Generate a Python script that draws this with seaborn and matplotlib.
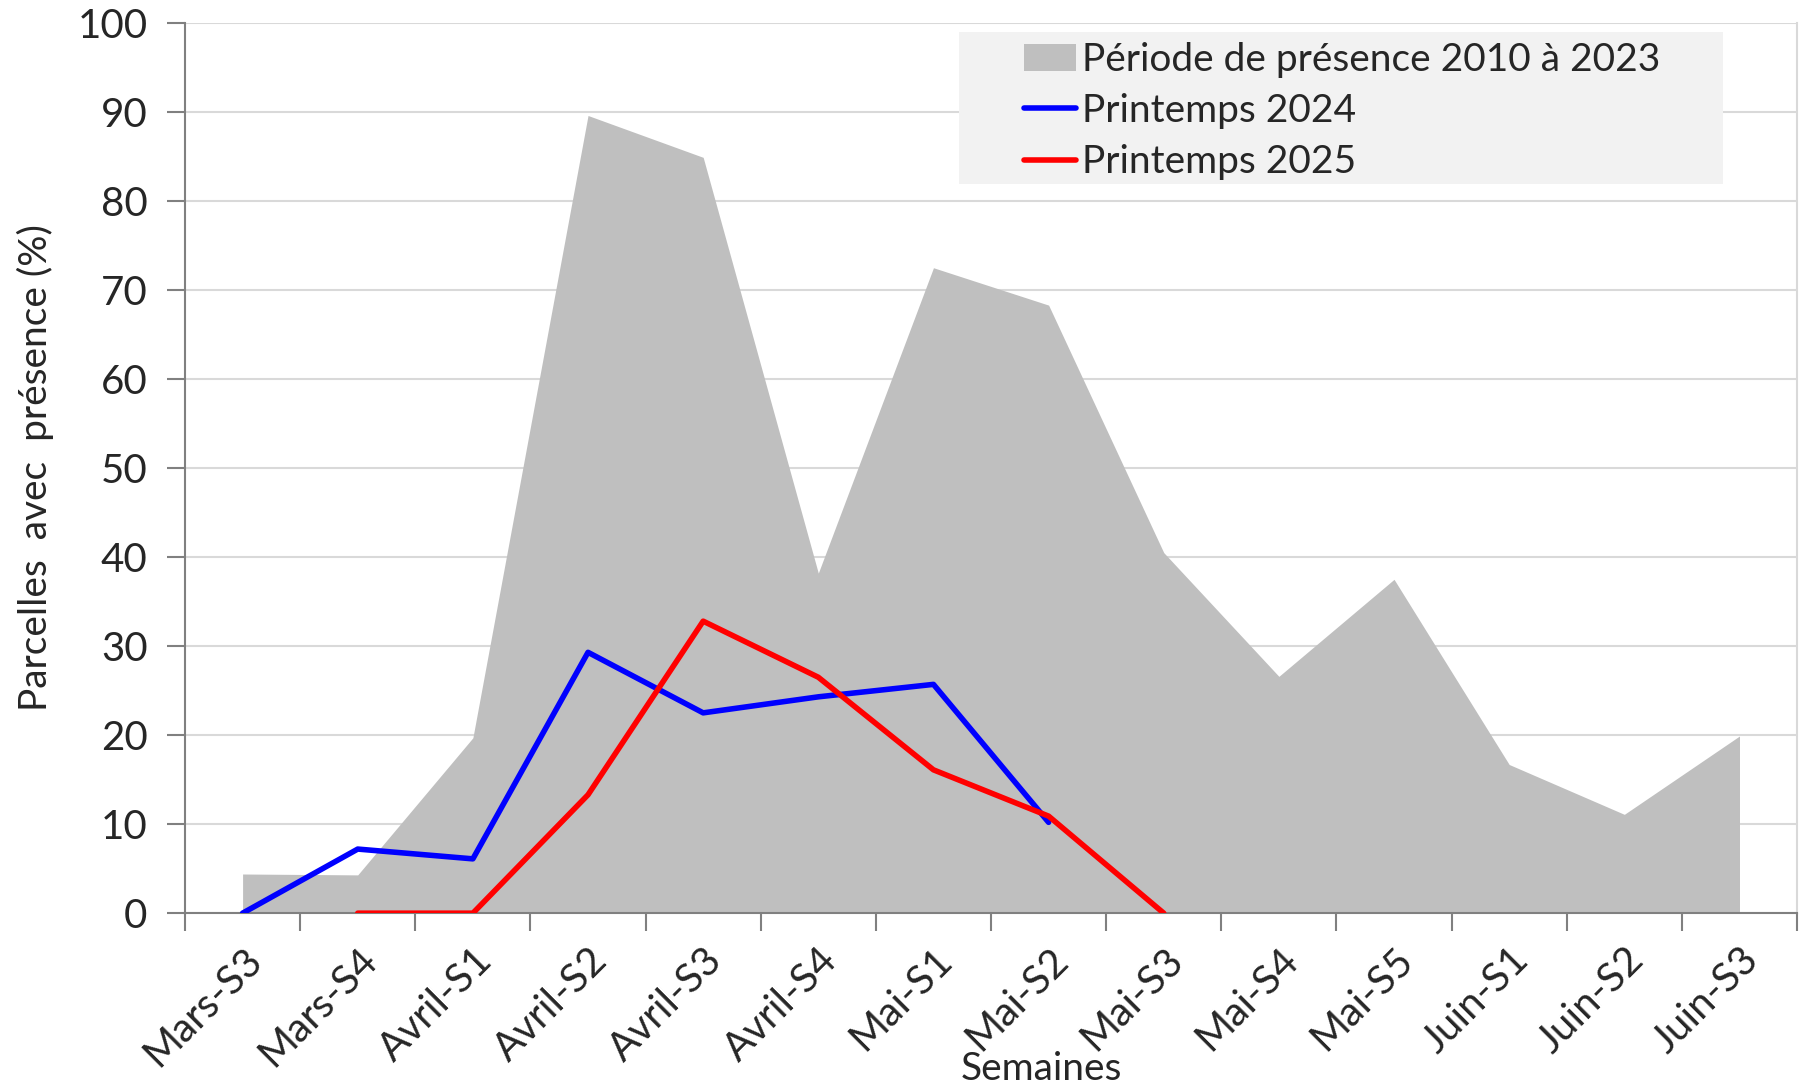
import numpy as np
import pandas as pd
import matplotlib
matplotlib.use("Agg")
import matplotlib.pyplot as plt
import seaborn as sns
from matplotlib.patches import Patch, Rectangle
from matplotlib.lines import Line2D

# Données
semaines = ["Mars-S3", "Mars-S4", "Avril-S1", "Avril-S2", "Avril-S3", "Avril-S4", "Mai-S1",
            "Mai-S2", "Mai-S3", "Mai-S4", "Mai-S5", "Juin-S1", "Juin-S2", "Juin-S3"]
periode_2010_2023 = [4.4, 4.3, 19.7, 89.6, 84.9, 38.2, 72.5, 68.3, 40.5, 26.6, 37.5, 16.7, 11.1, 19.9]
printemps_2024 = [0, 7.2, 6.1, 29.3, 22.5, 24.3, 25.7, 10.2, None, None, None, None, None, None]
printemps_2025 = [None, 0, 0, 13.3, 32.8, 26.5, 16.1, 10.9, 0, None, None, None, None, None]

y_ticks = list(range(0, 101, 10))

sns.set_style("white")
plt.rcParams['font.family'] = ['Lato', 'DejaVu Sans']

df = pd.DataFrame({
    "x": np.arange(len(semaines)),
    "2010-2023": periode_2010_2023,
    "2024": pd.to_numeric(pd.Series(printemps_2024, dtype=object)),
    "2025": pd.to_numeric(pd.Series(printemps_2025, dtype=object)),
})

fig = plt.figure(figsize=(18.05, 10.91), dpi=100)
ax = fig.add_axes([0.1025, 0.163, 0.8931, 0.816])

ax.fill_between(df["x"], 0, df["2010-2023"], color="#bfbfbf", linewidth=0, zorder=2)
sns.lineplot(data=df, x="x", y="2024", color="#0000ff", linewidth=4, ax=ax, zorder=3)
sns.lineplot(data=df, x="x", y="2025", color="#ff0000", linewidth=4, ax=ax, zorder=4)

ax.set_xlim(-0.5, len(semaines) - 0.5)
ax.set_ylim(0, 100)
ax.set_yticks(y_ticks)
ax.yaxis.grid(True, color="#d9d9d9", linewidth=1.5, zorder=0)
ax.set_axisbelow(True)

ax.set_xticks(df["x"])
ax.set_xticklabels(semaines, rotation=45, ha="right", rotation_mode="anchor")
ax.set_xticks(np.arange(-0.5, len(semaines), 1), minor=True)
ax.tick_params(axis="x", which="major", length=0, pad=20, labelsize=29)
ax.tick_params(axis="x", which="minor", length=13, width=1.5, color="#808080", direction="out")
ax.tick_params(axis="y", length=13, width=1.5, color="#808080", direction="out", labelsize=29, pad=14)
ax.tick_params(bottom=True, left=True, which="both")

for s in ["left", "bottom"]:
    ax.spines[s].set_color("#808080")
    ax.spines[s].set_linewidth(1.5)
ax.spines["top"].set_visible(False)
ax.spines["right"].set_color("#d9d9d9")
ax.spines["right"].set_linewidth(1.5)

ax.set_xlabel("")
ax.set_ylabel("Parcelles  avec  présence (%)", fontsize=28, labelpad=17)
fig.text(0.577, 0.004, "Semaines", fontsize=28, ha="center", va="bottom")

# fond de la légende
ax.add_patch(Rectangle((0.5313, 0.8313), 0.4233, 0.1394, transform=fig.transFigure,
                       facecolor="#f2f2f2", edgecolor="none", zorder=4.5, clip_on=False))

handles = [
    Patch(facecolor="#bfbfbf", edgecolor="none", label="Période de présence 2010 à 2023"),
    Line2D([0], [0], color="#0000ff", linewidth=4, label="Printemps 2024"),
    Line2D([0], [0], color="#ff0000", linewidth=4, label="Printemps 2025"),
]
leg = ax.legend(handles=handles, loc="upper left", bbox_to_anchor=(0.5673, 0.9617),
                bbox_transform=fig.transFigure, fontsize=28, frameon=False,
                handlelength=1.34, handletextpad=0.15, labelspacing=0.39,
                borderpad=0, borderaxespad=0)
leg.set_zorder(5)

fig.savefig("out.png", dpi=100)
